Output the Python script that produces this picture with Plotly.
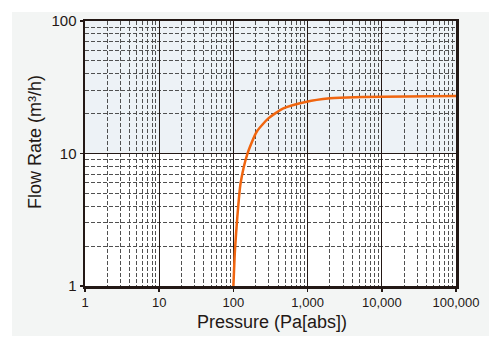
import plotly.graph_objects as go

pressure = [100, 105, 113, 125, 154, 206, 296, 471, 971, 2000, 2733, 10000, 100000]
flow = [1.0, 1.87, 3.33, 5.96, 9.9, 14.6, 18.4, 21.9, 24.6, 26.1, 26.4, 26.8, 27.2]

x_tickvals = [1, 10, 100, 1000, 10000, 100000]
x_ticktext = ["1", "10", "100", "1,000", "10,000", "100,000"]
y_tickvals = [1, 10, 100]
y_ticktext = ["1", "10", "100"]
x_minor = [m * d for d in [1, 10, 100, 1000, 10000] for m in range(2, 10)]
y_minor = [m * d for d in [1, 10] for m in range(2, 10)]

DARK = "#231815"
GRID = "#505050"
PANEL = "#f3f5f4"
FONT = "Liberation Sans"

fig = go.Figure()
fig.add_trace(go.Scatter(x=pressure, y=flow, mode="lines",
                         line=dict(color="#f0650f", width=2.5, shape="spline", smoothing=0.6),
                         hoverinfo="skip", showlegend=False))

# white strips outside the grey panel (plot: x 85..456, y 21..286 px)
W, H = 371.0, 265.0
def px(xp):
    return (xp - 85) / W
def py(yp):
    return (286 - yp) / H

strips = [
    (px(0), px(12), py(360), py(0)),
    (px(489), px(500), py(360), py(0)),
    (px(0), px(500), py(12), py(0)),
    (px(0), px(500), py(360), py(336)),
]
shapes = [dict(type="rect", xref="paper", yref="paper", x0=a, x1=b, y0=c, y1=d,
               fillcolor="white", line=dict(width=0), layer="above") for a, b, c, d in strips]
shapes.append(dict(type="rect", xref="x domain", yref="y", x0=0, x1=1, y0=10, y1=100,
                   fillcolor="#edf2f6", line=dict(width=0), layer="below"))

fig.update_layout(
    width=500, height=360,
    margin=dict(l=85, r=44, t=21, b=74, autoexpand=False),
    paper_bgcolor=PANEL, plot_bgcolor="white",
    font=dict(family=FONT, color=DARK),
    shapes=shapes,
    annotations=[
        dict(text="Pressure (Pa[abs])", xref="paper", yref="paper", x=0.505, y=py(322), xanchor="center", yanchor="middle",
             showarrow=False, font=dict(size=18, color=DARK, family=FONT)),
        dict(text="Flow Rate (m³/h)", xref="paper", yref="paper", x=px(35), y=py(142), xanchor="center", yanchor="middle",
             textangle=-90, showarrow=False, font=dict(size=18, color=DARK, family=FONT)),
    ],
)

common = dict(showgrid=True, gridcolor=DARK, gridwidth=1,
              ticks="outside", ticklen=3, tickcolor=DARK, tickwidth=1.5,
              showline=True, linecolor=DARK, linewidth=2.5, mirror=True,
              zeroline=False, automargin=False)
fig.update_xaxes(type="log", range=[0, 5], tickvals=x_tickvals, ticktext=x_ticktext,
                 tickfont=dict(size=13, color=DARK, family=FONT),
                 minor=dict(showgrid=True, gridcolor=GRID, gridwidth=1, griddash="4px,2px", ticks="",
                            tickmode="array", tickvals=x_minor),
                 **common)
fig.update_yaxes(type="log", range=[0, 2], tickvals=y_tickvals, ticktext=y_ticktext,
                 tickfont=dict(size=15, color=DARK, family=FONT),
                 minor=dict(showgrid=True, gridcolor=GRID, gridwidth=1, griddash="4px,2px", ticks="",
                            tickmode="array", tickvals=y_minor),
                 **common)

fig.write_html("out.html", config={"displayModeBar": False, "staticPlot": True},
               post_script="document.body.style.margin='0';")
